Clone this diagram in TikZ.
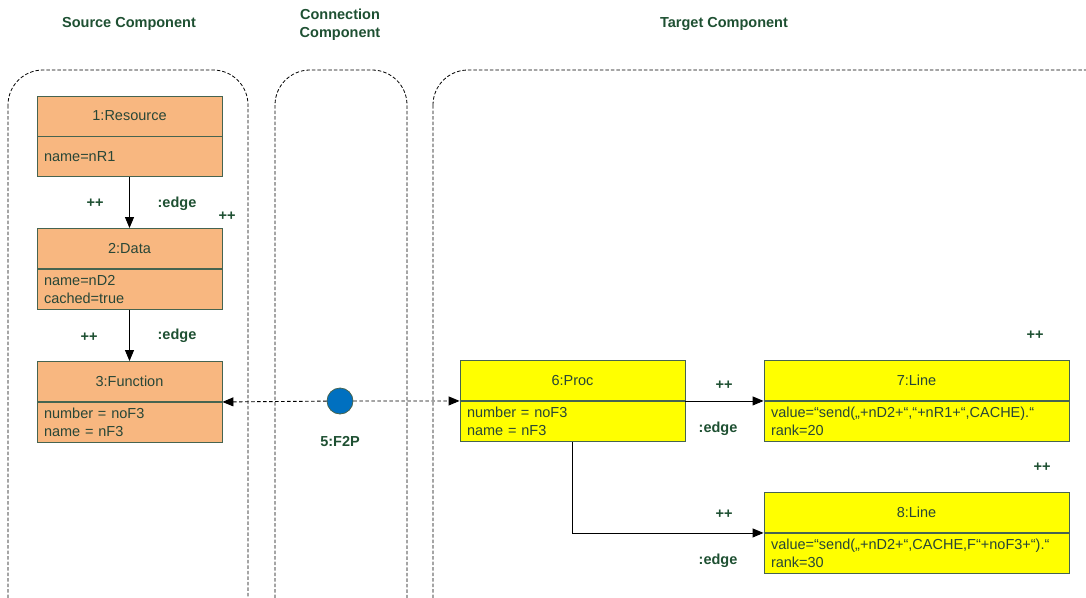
\documentclass[tikz,border=0pt]{standalone}
\usepackage{fontspec}
\setmainfont{Liberation Sans}
\usetikzlibrary{arrows.meta,positioning}

\definecolor{boxorange}{RGB}{248,183,128}
\definecolor{boxyellow}{RGB}{255,255,0}
\definecolor{boxline}{RGB}{70,100,80}
\definecolor{boxtext}{RGB}{40,70,55}
\definecolor{lblgreen}{RGB}{30,80,50}
\definecolor{fpblue}{RGB}{0,112,192}

\begin{document}
\begin{tikzpicture}[x=1pt,y=-1pt,
    hdr/.style={draw=boxline, line width=0.9pt, minimum width=#1, minimum height=40pt, inner sep=0pt, text=boxtext, font=\fontsize{14.5}{17.5}\selectfont},
    att/.style={draw=boxline, line width=0.9pt, text width=#1, minimum height=40pt, inner xsep=7pt, inner ysep=0pt, anchor=north, align=left, text=boxtext, font=\fontsize{14.5}{17.5}\selectfont},
    lbl/.style={text=lblgreen, yshift=-2pt, font=\fontsize{14.5}{17.5}\selectfont\bfseries},
    cbox/.style={draw=black, line width=0.8pt, dash pattern=on 3.5pt off 2pt, rounded corners=35pt},
    flow/.style={-{Triangle[length=11pt,width=9pt]}, line width=0.9pt},
    link/.style={-{Triangle[length=11pt,width=9pt]}, line width=0.9pt, dash pattern=on 3.5pt off 2.5pt}]
    \useasboundingbox (0,0) rectangle (1086,597);
    \clip (0,0) rectangle (1086,597);

    % components
    \node[lbl] (tsrc) at (129,22) {Source Component};
    \node[lbl, align=center] (tcon) at (340,23) {Connection\\Component};
    \node[lbl] (ttgt) at (724,22) {Target Component};
    \draw[cbox] (8,70) rectangle (248,650);
    \draw[cbox] (275,70) rectangle (407,650);
    \draw[cbox] (433,70) rectangle (1125,650);

    % source side
    \node[hdr=185pt, fill=boxorange] (res) at (129.5,116) {1:Resource};
    \node[att=171pt, fill=boxorange] (resA) at (res.south) {name=nR1};
    \node[hdr=185pt, fill=boxorange] (dat) at (129.5,248.5) {2:Data};
    \node[att=171pt, fill=boxorange] (datA) at (dat.south) {name=nD2\\cached=true};
    \node[hdr=185pt, fill=boxorange] (fun) at (129.5,381.5) {3:Function};
    \node[att=171pt, fill=boxorange] (funA) at (fun.south) {number = noF3\\name = nF3};

    \draw[flow] (resA) -- (dat);
    \draw[flow] (datA) -- (fun);
    \node[lbl] (p1) at (95,201) {++};
    \node[lbl] (e1) at (177,202) {:edge};
    \node[lbl] (p2) at (227,214) {++};
    \node[lbl] (p3) at (89,335) {++};
    \node[lbl] (e2) at (177,334) {:edge};

    % connection
    \node[circle, draw=boxline, line width=0.8pt, fill=fpblue, minimum size=26pt, inner sep=0pt] (f2p) at (340,401) {};
    \node[lbl] (tf2p) at (340,440) {5:F2P};

    % target side
    \node[hdr=225pt, fill=boxyellow] (proc) at (572.5,380.5) {6:Proc};
    \node[att=211pt, fill=boxyellow] (procA) at (proc.south) {number = noF3\\name = nF3};
    \node[hdr=305pt, fill=boxyellow] (ln7) at (916.5,380.5) {7:Line};
    \node[att=291pt, fill=boxyellow] (ln7A) at (ln7.south) {value=“send(„+nD2+“,“+nR1+“,CACHE).“\\rank=20};
    \node[hdr=305pt, fill=boxyellow] (ln8) at (916.5,512.5) {8:Line};
    \node[att=291pt, fill=boxyellow] (ln8A) at (ln8.south) {value=“send(„+nD2+“,CACHE,F“+noF3+“).“\\rank=30};

    \draw[link] (f2p) -- (fun.south east);
    \draw[link] (f2p) -- (proc.south west);
    \draw[flow] (proc.south east) -- (ln7.south west);
    \draw[flow] (procA.south) |- (ln8.south west);
    \node[lbl] (p4) at (724,383) {++};
    \node[lbl] (e3) at (718,427) {:edge};
    \node[lbl] (p5) at (724,512) {++};
    \node[lbl] (e4) at (718,559) {:edge};
    \node[lbl] (p6) at (1035,333) {++};
    \node[lbl] (p7) at (1042,465) {++};
\end{tikzpicture}
\end{document}
